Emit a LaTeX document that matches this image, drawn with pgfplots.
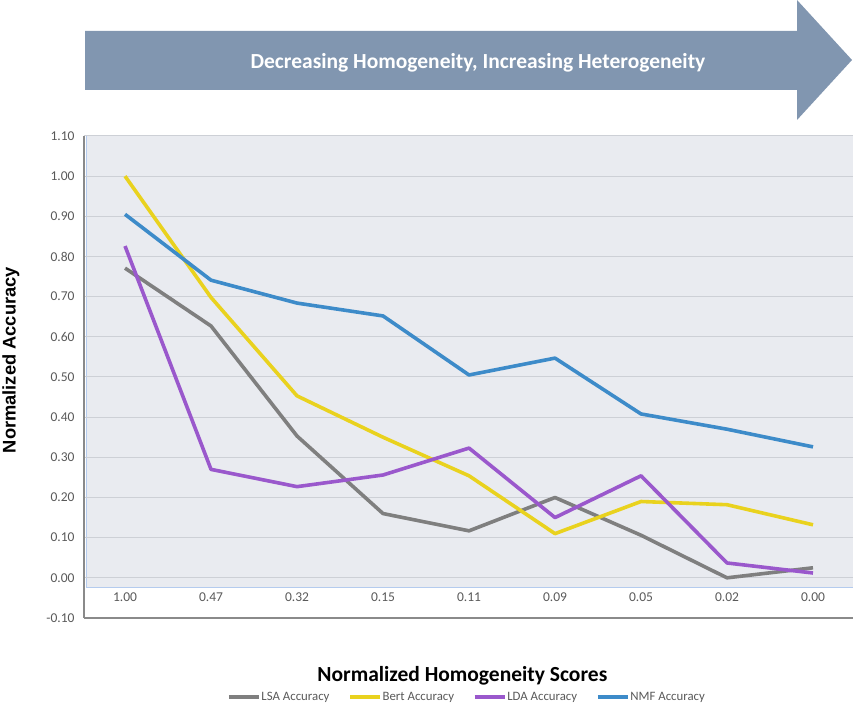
\documentclass[border=0pt]{standalone}
\usepackage{pgfplots}
\pgfplotsset{compat=1.18}
\usepackage{fontspec}
\setmainfont{Carlito}
\newfontfamily\arialfont{Liberation Sans}
\definecolor{lsa}{HTML}{7F7F7F}
\definecolor{bert}{HTML}{E9D21E}
\definecolor{lda}{HTML}{9A58CC}
\definecolor{nmf}{HTML}{3D8BC9}
\definecolor{bgc}{HTML}{E9EBF0}
\definecolor{arrowc}{HTML}{8196B0}
\definecolor{tickc}{HTML}{595959}
\definecolor{gridc}{HTML}{CDD0D6}
\definecolor{bgedge}{HTML}{B4CBEE}
\definecolor{axc}{HTML}{8A8A8A}
\begin{document}
\begin{tikzpicture}[x=1pt,y=1pt]
\useasboundingbox (0,0) rectangle (853,708);
\fill[arrowc] (85,677) -- (797,677) -- (797,708) -- (852,648) -- (797,588) -- (797,618) -- (85,618) -- cycle;
\node[white, font=\fontsize{21.5}{23}\selectfont\bfseries] at (478,645) {Decreasing Homogeneity, Increasing Heterogeneity};
\fill[bgc] (86,120) rectangle (853,572);
\draw[bgedge, line width=1pt] (86,572) -- (86,120) -- (853,120);
\begin{axis}[
  at={(84pt,90pt)}, anchor=south west, scale only axis,
  width=769pt, height=482pt,
  xmin=-0.477, xmax=8.465, ymin=-0.1, ymax=1.1,
  ytick={-0.1,0,0.1,0.2,0.3,0.4,0.5,0.6,0.7,0.8,0.9,1.0,1.1},
  xtick={0,1,2,3,4,5,6,7,8},
  xticklabels={1.00,0.47,0.32,0.15,0.11,0.09,0.05,0.02,0.00},
  ymajorgrids, grid style={gridc, line width=1pt},
  axis x line*=bottom, axis y line*=left,
  axis line style={-, color=axc, line width=1.3pt},
  major tick length=0pt,
  xticklabel style={anchor=center, yshift=21pt, font=\fontsize{13.5}{15}\selectfont, text=tickc},
  yticklabel style={font=\fontsize{13.5}{15}\selectfont, text=tickc, xshift=-6pt,
    /pgf/number format/fixed, /pgf/number format/fixed zerofill, /pgf/number format/precision=2},
  /pgf/number format/assume math mode=true,
  xlabel={Normalized Homogeneity Scores},
  xlabel style={at={(axis description cs:0.492,-0.12)}, anchor=center, font=\fontsize{21.5}{23}\selectfont\bfseries},
  ylabel={Normalized Accuracy},
  ylabel style={at={(axis description cs:-0.095,0.535)}, anchor=center, font=\arialfont\fontsize{18.3}{20}\selectfont\bfseries},
  legend columns=4,
  legend style={at={(axis description cs:0.4975,-0.164)}, anchor=center, draw=none, fill=none,
    font=\fontsize{12.8}{14}\selectfont, text=tickc,
    /tikz/every odd column/.append style={column sep=0pt},
    /tikz/every even column/.append style={column sep=18pt},
    nodes={inner xsep=1pt}},
  legend image code/.code={\draw[#1, line width=3.2pt] (0pt,0pt) -- (30pt,0pt);},
  every axis plot/.append style={line width=3.6pt, line join=round, mark=none},
]
\addplot[lsa] coordinates {(0,0.771) (1,0.627) (2,0.353) (3,0.160) (4,0.117) (5,0.200) (6,0.106) (7,0.000) (8,0.025)};
\addplot[bert] coordinates {(0,1.000) (1,0.698) (2,0.453) (3,0.350) (4,0.254) (5,0.110) (6,0.190) (7,0.182) (8,0.132)};
\addplot[lda] coordinates {(0,0.826) (1,0.270) (2,0.227) (3,0.256) (4,0.323) (5,0.150) (6,0.254) (7,0.037) (8,0.012)};
\addplot[nmf] coordinates {(0,0.905) (1,0.741) (2,0.684) (3,0.652) (4,0.505) (5,0.547) (6,0.408) (7,0.370) (8,0.326)};
\legend{LSA Accuracy, Bert Accuracy, LDA Accuracy, NMF Accuracy}
\end{axis}
\end{tikzpicture}
\end{document}
